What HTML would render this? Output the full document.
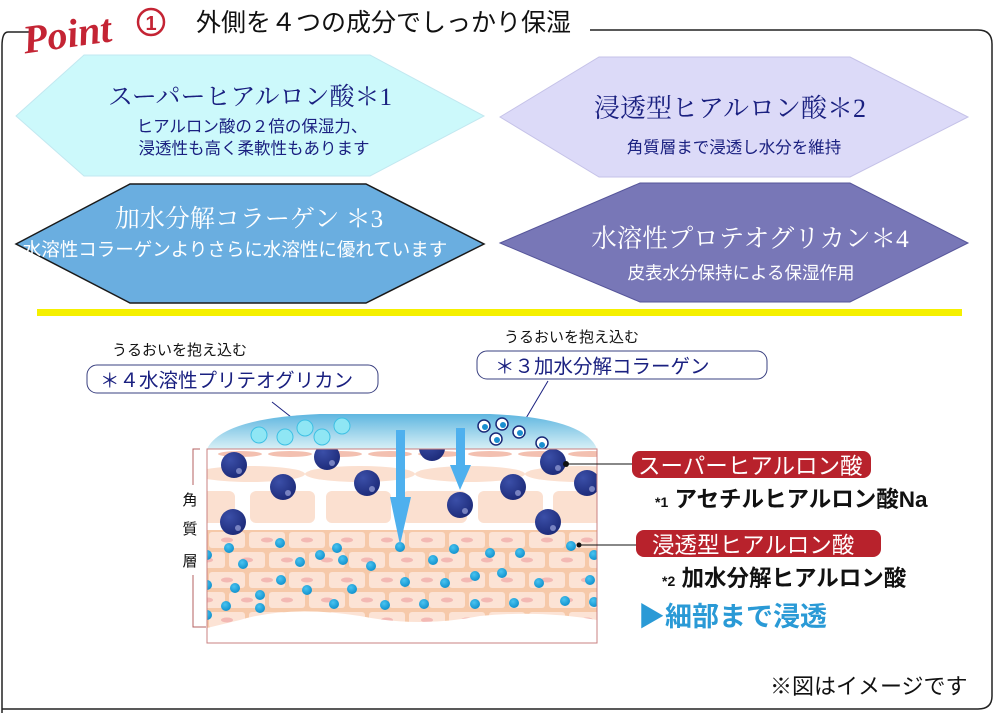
<!DOCTYPE html>
<html><head><meta charset="utf-8"><style>
html,body{margin:0;padding:0;background:#fff}
body{width:999px;height:713px;overflow:hidden;position:relative;font-family:"Liberation Sans","Noto Sans CJK JP",sans-serif}
svg{position:absolute;left:0;top:0}
</style></head><body>
<svg width="999" height="713" viewBox="0 0 999 713" xmlns="http://www.w3.org/2000/svg" font-family="Liberation Sans, Noto Sans CJK JP, sans-serif">
<defs>
<linearGradient id="gel" x1="0" y1="0" x2="0" y2="1"><stop offset="0" stop-color="#5fb6e0"/><stop offset="1" stop-color="#d8f0f6"/></linearGradient>
<radialGradient id="big" cx="0.35" cy="0.3" r="0.75"><stop offset="0" stop-color="#3b4fa8"/><stop offset="1" stop-color="#1c2a78"/></radialGradient>
<radialGradient id="sm" cx="0.4" cy="0.35" r="0.7"><stop offset="0" stop-color="#49c3f0"/><stop offset="1" stop-color="#0e8fcc"/></radialGradient>
<pattern id="brick" x="207" y="530" width="40" height="40" patternUnits="userSpaceOnUse">
<rect width="40" height="40" fill="#f6c9a9"/>
<rect x="2" y="2" width="36" height="16" rx="3" fill="#fce3d5"/>
<rect x="-18" y="22" width="36" height="16" rx="3" fill="#fce3d5"/>
<rect x="22" y="22" width="36" height="16" rx="3" fill="#fce3d5"/>
<ellipse cx="20" cy="10" rx="6" ry="2.5" fill="#f3b9b4"/>
<ellipse cx="0" cy="30" rx="6" ry="2.5" fill="#f3b9b4"/>
<ellipse cx="40" cy="30" rx="6" ry="2.5" fill="#f3b9b4"/>
</pattern>
<clipPath id="box"><rect x="207" y="449" width="390" height="194"/></clipPath>
</defs>

<!-- outer frame -->
<path d="M 30 32 L 8 32 Q 2 32 2 46 L 2 713" fill="none" stroke="#222" stroke-width="1.5"/>
<path d="M 590 30 L 978 30 Q 992 30 992 44 L 992 696 Q 992 709 978 709 L 2 709" fill="none" stroke="#222" stroke-width="1.5"/>

<!-- title -->
<text x="22" y="47" font-family="Liberation Serif, serif" font-style="italic" font-weight="bold" font-size="40" fill="#c42434" transform="rotate(-8 70 30)">Point</text>
<circle cx="151" cy="22" r="13" fill="none" stroke="#c42434" stroke-width="2.5"/>
<text x="151" y="30" text-anchor="middle" font-size="20" font-weight="bold" fill="#c42434">1</text>
<text x="196" y="31" font-size="25" fill="#111">外側を４つの成分でしっかり保湿</text>

<!-- hexagons -->
<polygon points="16,116 84,55 370,55 484,116 370,176 84,176" fill="#ccf9fb" stroke="#c2e8f0"/>
<polygon points="500,117 599,57 850,57 968,117 850,177 599,177" fill="#dcdaf8" stroke="#c5c2e8"/>
<polygon points="16,244 130,184 366,184 484,244 366,303 130,303" fill="#6aaee0" stroke="#1a1a1a" stroke-width="1.5"/>
<polygon points="500,243 640,183 850,183 968,243 850,302 640,302" fill="#7877b7" stroke="#56559a"/>

<text x="250" y="105" text-anchor="middle" font-family="Liberation Serif, Noto Serif CJK SC, serif" font-size="25" fill="#1a2080">スーパーヒアルロン酸＊1</text>
<text x="252" y="132" text-anchor="middle" font-size="16.5" fill="#1a2080">ヒアルロン酸の２倍の保湿力、</text>
<text x="254" y="154" text-anchor="middle" font-size="16.5" fill="#1a2080">浸透性も高く柔軟性もあります</text>
<text x="730" y="117" text-anchor="middle" font-family="Liberation Serif, Noto Serif CJK SC, serif" font-size="26" fill="#1a2080">浸透型ヒアルロン酸＊2</text>
<text x="734" y="153" text-anchor="middle" font-size="16.5" fill="#1a2080">角質層まで浸透し水分を維持</text>
<text x="249" y="227" text-anchor="middle" font-family="Liberation Serif, Noto Serif CJK SC, serif" font-size="25" fill="#fff">加水分解コラーゲン ＊3</text>
<text x="235" y="256" text-anchor="middle" font-size="18.5" fill="#fff">水溶性コラーゲンよりさらに水溶性に優れています</text>
<text x="750" y="247" text-anchor="middle" font-family="Liberation Serif, Noto Serif CJK SC, serif" font-size="25.5" fill="#fff">水溶性プロテオグリカン＊4</text>
<text x="741" y="279" text-anchor="middle" font-size="17.5" fill="#fff">皮表水分保持による保湿作用</text>

<!-- yellow line -->
<rect x="37" y="309" width="925" height="7" fill="#f5f000"/>

<!-- callouts -->
<text x="112" y="355" font-size="15" fill="#111">うるおいを抱え込む</text>
<rect x="87" y="365" width="291" height="28" rx="10" fill="#fff" stroke="#3a4080" stroke-width="1"/>
<text x="100" y="387" font-size="19.5" fill="#1a2080">＊４水溶性プリテオグリカン</text>
<text x="504" y="342" font-size="15" fill="#111">うるおいを抱え込む</text>
<rect x="477" y="351" width="290" height="28" rx="10" fill="#fff" stroke="#3a4080" stroke-width="1"/>
<text x="495" y="373" font-size="19.5" fill="#1a2080">＊３加水分解コラーゲン</text>
<line x1="272" y1="402" x2="305" y2="428" stroke="#1a2080"/>
<line x1="548" y1="381" x2="519" y2="430" stroke="#1a2080"/>

<!-- gel -->
<path d="M 207 449 Q 222 418 320 414 L 490 414 Q 585 418 597 449 Z" fill="url(#gel)"/>
<g fill="#8fe6f4" stroke="#3ec0e4" stroke-width="1">
<circle cx="259" cy="435" r="8"/><circle cx="285" cy="437" r="8"/><circle cx="305" cy="428" r="8"/><circle cx="322" cy="437" r="8"/><circle cx="342" cy="426" r="8"/>
</g>
<g fill="#fff" stroke="#1a2a78" stroke-width="1.5">
<circle cx="484" cy="426" r="6"/><circle cx="502" cy="424" r="6"/><circle cx="519" cy="432" r="6"/><circle cx="496" cy="439" r="6"/><circle cx="542" cy="443" r="6"/>
</g>
<g fill="#1a8fd0">
<circle cx="485" cy="427" r="3"/><circle cx="503" cy="425" r="3"/><circle cx="520" cy="433" r="3"/><circle cx="497" cy="440" r="3"/><circle cx="542" cy="445" r="3"/>
</g>

<!-- skin -->
<g clip-path="url(#box)">
<rect x="207" y="449" width="390" height="194" fill="#fff"/>
<g fill="#f3c0b0">
<ellipse cx="240" cy="454" rx="22" ry="3"/><ellipse cx="290" cy="454" rx="22" ry="3"/><ellipse cx="340" cy="454" rx="22" ry="3"/><ellipse cx="390" cy="454" rx="22" ry="3"/><ellipse cx="440" cy="454" rx="22" ry="3"/><ellipse cx="490" cy="454" rx="22" ry="3"/><ellipse cx="540" cy="454" rx="22" ry="3"/><ellipse cx="590" cy="454" rx="22" ry="3"/>
</g>
<g fill="#fbe0d0">
<ellipse cx="250" cy="474" rx="55" ry="8"/><ellipse cx="360" cy="474" rx="55" ry="8"/><ellipse cx="470" cy="474" rx="55" ry="8"/><ellipse cx="580" cy="474" rx="55" ry="8"/>
<rect x="180" y="491" width="55" height="32" rx="6"/><rect x="250" y="491" width="65" height="32" rx="6"/><rect x="326" y="491" width="65" height="32" rx="6"/><rect x="402" y="491" width="65" height="32" rx="6"/><rect x="478" y="491" width="65" height="32" rx="6"/><rect x="553" y="491" width="65" height="32" rx="6"/>
</g>
<path d="M 207 530 L 597 530 L 597 620 Q 540 610 480 616 Q 420 628 360 616 Q 290 605 240 620 L 207 628 Z" fill="url(#brick)"/>
<g fill="url(#sm)">
<circle cx="229" cy="548" r="5"/><circle cx="280" cy="543" r="5"/><circle cx="243" cy="564" r="5"/><circle cx="320" cy="555" r="5"/><circle cx="300" cy="562" r="5"/><circle cx="337" cy="548" r="5"/><circle cx="343" cy="560" r="5"/><circle cx="371" cy="566" r="5"/><circle cx="400" cy="547" r="5"/><circle cx="433" cy="560" r="5"/><circle cx="454" cy="549" r="5"/><circle cx="490" cy="553" r="5"/><circle cx="520" cy="553" r="5"/><circle cx="571" cy="546" r="5"/><circle cx="594" cy="555" r="5"/><circle cx="207" cy="555" r="5"/>
<circle cx="235" cy="588" r="5"/><circle cx="281" cy="580" r="5"/><circle cx="260" cy="595" r="5"/><circle cx="307" cy="590" r="5"/><circle cx="352" cy="589" r="5"/><circle cx="405" cy="582" r="5"/><circle cx="445" cy="583" r="5"/><circle cx="475" cy="576" r="5"/><circle cx="502" cy="573" r="5"/><circle cx="539" cy="583" r="5"/><circle cx="590" cy="580" r="5"/><circle cx="207" cy="585" r="5"/><circle cx="226" cy="606" r="5"/>
<circle cx="260" cy="608" r="5"/><circle cx="334" cy="604" r="5"/><circle cx="385" cy="605" r="5"/><circle cx="424" cy="604" r="5"/><circle cx="475" cy="604" r="5"/><circle cx="514" cy="603" r="5"/><circle cx="565" cy="601" r="5"/><circle cx="207" cy="615" r="5"/><circle cx="594" cy="602" r="5"/>
</g>
<g fill="url(#big)">
<circle cx="234" cy="465" r="13"/><circle cx="327" cy="457" r="13"/><circle cx="432" cy="448" r="13"/><circle cx="283" cy="487" r="13"/><circle cx="367" cy="483" r="13"/><circle cx="460" cy="505" r="13"/><circle cx="513" cy="487" r="13"/><circle cx="553" cy="462" r="13"/><circle cx="587" cy="483" r="13"/><circle cx="233" cy="522" r="13"/><circle cx="548" cy="522" r="13"/>
</g>
<g fill="#8c96d0" opacity="0.8">
<circle cx="239" cy="471" r="3"/><circle cx="332" cy="463" r="3"/><circle cx="288" cy="493" r="3"/><circle cx="372" cy="489" r="3"/><circle cx="465" cy="511" r="3"/><circle cx="518" cy="493" r="3"/><circle cx="558" cy="468" r="3"/><circle cx="592" cy="489" r="3"/><circle cx="238" cy="528" r="3"/><circle cx="553" cy="528" r="3"/>
</g>
</g>
<rect x="207" y="449" width="390" height="194" fill="none" stroke="#c98080" stroke-width="1"/>
<!-- arrows -->
<rect x="396" y="430" width="9" height="70" fill="#4eb0ee"/>
<polygon points="390,497 411,497 400,545" fill="#4eb0ee"/>
<rect x="456" y="428" width="9" height="40" fill="#4eb0ee"/>
<polygon points="450,465 471,465 460,490" fill="#4eb0ee"/>

<!-- bracket -->
<path d="M 200 449 L 193 449 L 193 485 M 193 575 L 193 627 L 206 627" fill="none" stroke="#b46060" stroke-width="1"/>
<text x="190" y="505" text-anchor="middle" font-size="15" fill="#111">角</text>
<text x="190" y="534" text-anchor="middle" font-size="15" fill="#111">質</text>
<text x="190" y="566" text-anchor="middle" font-size="15" fill="#111">層</text>

<!-- labels -->
<circle cx="566" cy="464" r="3" fill="#111"/>
<line x1="566" y1="464" x2="632" y2="464" stroke="#111"/>
<circle cx="579" cy="545" r="2.5" fill="#111"/>
<line x1="579" y1="545" x2="636" y2="545" stroke="#111"/>
<rect x="632" y="451" width="239" height="27" rx="8" fill="#b8222c"/>
<text x="638" y="474" font-size="22.5" fill="#fff">スーパーヒアルロン酸</text>
<rect x="636" y="530" width="245" height="27" rx="8" fill="#b8222c"/>
<text x="652" y="553" font-size="22.5" fill="#fff">浸透型ヒアルロン酸</text>
<text x="655" y="507" font-size="22.5" font-weight="bold" fill="#111"><tspan font-size="14">*1</tspan> アセチルヒアルロン酸Na</text>
<text x="662" y="586" font-size="22.5" font-weight="bold" fill="#111"><tspan font-size="14">*2</tspan> 加水分解ヒアルロン酸</text>
<text x="638" y="626" font-size="27" font-weight="bold" fill="#2a9ad6">▶細部まで浸透</text>
<text x="770" y="694" font-size="22" fill="#111">※図はイメージです</text>
</svg>
</body></html>
